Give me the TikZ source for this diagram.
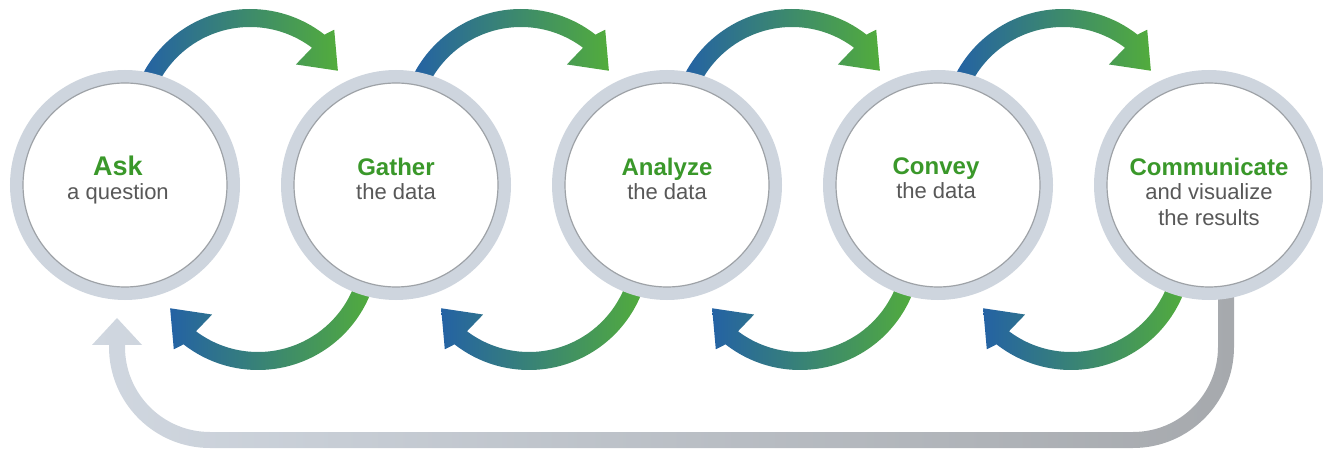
\documentclass[tikz,border=0pt]{standalone}
\usepackage{fontspec}
\setmainfont{Liberation Sans}

\definecolor{ring}{RGB}{206,213,222}
\definecolor{rimline}{RGB}{158,162,167}
\definecolor{flowblue}{RGB}{36,98,164}
\definecolor{flowgreen}{RGB}{82,172,60}
\definecolor{headgreen}{RGB}{58,152,42}
\definecolor{subgray}{RGB}{88,88,88}
\definecolor{backlight}{RGB}{208,215,224}
\definecolor{backdark}{RGB}{166,169,173}

\newcommand{\stagehead}[2][24]{{\fontsize{#1}{#1}\selectfont\bfseries\color{headgreen}#2}}

\begin{document}
\begin{tikzpicture}[x = 1pt, y = 1pt,
	stage/.style = {circle, draw = ring, line width = 13pt, fill = white, minimum size = 217pt, inner sep = 0pt},
	rim/.style = {draw = rimline, line width = 1.2pt},
	flow/.style = {left color = flowblue, right color = flowgreen},
	back/.style = {left color = backlight, middle color = backdark, right color = backdark},
	caption/.style = {align = center, anchor = north, inner sep = 0pt, text = subgray, font = \fontsize{22}{26}\selectfont}]

	\useasboundingbox (0, 0) rectangle (1323, 450) ;

	% return arrow
	\shade [back] (1234, 158) -- (1234, 103) arc [start angle = 0, end angle = -90, radius = 101]
		-- (210, 2) arc [start angle = 270, end angle = 180, radius = 101]
		-- (109, 105) -- (92, 105) -- (117, 132) -- (142, 105) -- (125, 105)
		-- (125, 103) arc [start angle = 180, end angle = 270, radius = 85]
		-- (1133, 18) arc [start angle = -90, end angle = 0, radius = 85]
		-- (1218, 158) -- cycle ;

	% arrows between the stages
	\begin{scope} [shift = {(125, 265)}]
		\shade [flow, shift = {(125, 55)}] (153:121) arc [start angle = 153, end angle = 52, radius = 121]
			-- (50:131) -- (34:106) -- (55:80) -- (53:103) arc [start angle = 53, end angle = 153, radius = 103] -- cycle ;
		\shade [flow, shift = {(133, -64)}] (-19:121) arc [start angle = -19, end angle = -128, radius = 121]
			-- (-130:131) -- (-146:106) -- (-125:80) -- (-127:103) arc [start angle = -127, end angle = -19, radius = 103] -- cycle ;
	\end{scope}

	\begin{scope} [shift = {(396, 265)}]
		\shade [flow, shift = {(125, 55)}] (153:121) arc [start angle = 153, end angle = 52, radius = 121]
			-- (50:131) -- (34:106) -- (55:80) -- (53:103) arc [start angle = 53, end angle = 153, radius = 103] -- cycle ;
		\shade [flow, shift = {(133, -64)}] (-19:121) arc [start angle = -19, end angle = -128, radius = 121]
			-- (-130:131) -- (-146:106) -- (-125:80) -- (-127:103) arc [start angle = -127, end angle = -19, radius = 103] -- cycle ;
	\end{scope}

	\begin{scope} [shift = {(667, 265)}]
		\shade [flow, shift = {(125, 55)}] (153:121) arc [start angle = 153, end angle = 52, radius = 121]
			-- (50:131) -- (34:106) -- (55:80) -- (53:103) arc [start angle = 53, end angle = 153, radius = 103] -- cycle ;
		\shade [flow, shift = {(133, -64)}] (-19:121) arc [start angle = -19, end angle = -128, radius = 121]
			-- (-130:131) -- (-146:106) -- (-125:80) -- (-127:103) arc [start angle = -127, end angle = -19, radius = 103] -- cycle ;
	\end{scope}

	\begin{scope} [shift = {(938, 265)}]
		\shade [flow, shift = {(125, 55)}] (153:121) arc [start angle = 153, end angle = 52, radius = 121]
			-- (50:131) -- (34:106) -- (55:80) -- (53:103) arc [start angle = 53, end angle = 153, radius = 103] -- cycle ;
		\shade [flow, shift = {(133, -64)}] (-19:121) arc [start angle = -19, end angle = -128, radius = 121]
			-- (-130:131) -- (-146:106) -- (-125:80) -- (-127:103) arc [start angle = -127, end angle = -19, radius = 103] -- cycle ;
	\end{scope}

	% stages
	\node [stage] (ask) at (125, 265) {} ;
	\node [stage] (gather) at (396, 265) {} ;
	\node [stage] (analyze) at (667, 265) {} ;
	\node [stage] (convey) at (938, 265) {} ;
	\node [stage] (communicate) at (1209, 265) {} ;

	\draw [rim] (ask.center) circle [radius = 102] ;
	\draw [rim] (gather.center) circle [radius = 102] ;
	\draw [rim] (analyze.center) circle [radius = 102] ;
	\draw [rim] (convey.center) circle [radius = 102] ;
	\draw [rim] (communicate.center) circle [radius = 102] ;

	\node [caption] (askText) at (118, 294) {\stagehead[27]{Ask}\\[-2pt] a question} ;
	\node [caption] (gatherText) at (396, 292) {\stagehead{Gather}\\[-2pt] the data} ;
	\node [caption] (analyzeText) at (667, 292) {\stagehead{Analyze}\\[-2pt] the data} ;
	\node [caption] (conveyText) at (936, 292) {\stagehead{Convey}\\[-2pt] the data} ;
	\node [caption] (communicateText) at (1209, 292) {\stagehead{Communicate}\\[-2pt] and visualize\\ the results} ;

\end{tikzpicture}
\end{document}
